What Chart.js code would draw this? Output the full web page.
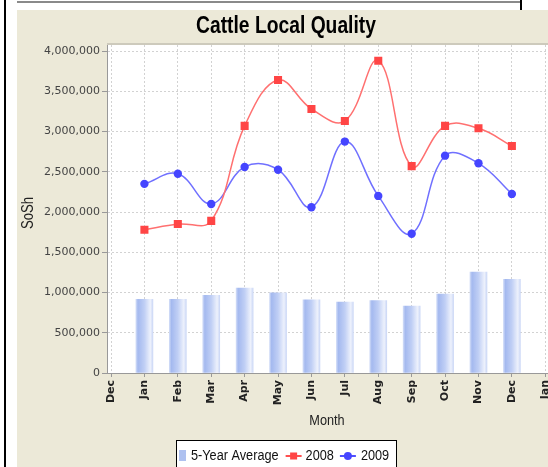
<!DOCTYPE html>
<html>
<head>
<meta charset="utf-8">
<script src="https://cdn.jsdelivr.net/npm/chart.js@4.4.1/dist/chart.umd.min.js"></script>
<style>
  html, body { margin: 0; padding: 0; background: #fff; overflow: hidden; }
  body { width: 548px; height: 467px; position: relative; }
  #leftRule { position: absolute; left: 4px; top: 0; width: 2px; height: 467px; background: #000; }
  #topRule { position: absolute; left: 17px; top: 1px; width: 503px; height: 2px; background: #8a8a8a; }
  #rightTick { position: absolute; left: 520px; top: 0; width: 2px; height: 10px; background: #000; }
  #panel { position: absolute; left: 17px; top: 10px; width: 538px; height: 457px; background: #ECE9D8; }
  canvas { display: block; }
</style>
</head>
<body>
<div id="leftRule"></div>
<div id="topRule"></div>
<div id="rightTick"></div>
<div id="panel"><canvas id="cattleChart" width="538" height="457"></canvas></div>
<script>
// axis labels: the month axis runs Dec .. Jan, data sits on Jan..Dec
const axisMonths = ['Dec', 'Jan', 'Feb', 'Mar', 'Apr', 'May', 'Jun', 'Jul', 'Aug', 'Sep', 'Oct', 'Nov', 'Dec', 'Jan'];
const months = ['Jan', 'Feb', 'Mar', 'Apr', 'May', 'Jun', 'Jul', 'Aug', 'Sep', 'Oct', 'Nov', 'Dec'];

const avg5Year = [915000, 915000, 965000, 1055000, 995000, 910000, 880000, 900000, 830000, 980000, 1255000, 1165000];
const sales2008 = [1780000, 1850000, 1890000, 3070000, 3640000, 3280000, 3130000, 3880000, 2570000, 3070000, 3040000, 2820000];
const sales2009 = [2350000, 2475000, 2100000, 2560000, 2525000, 2060000, 2875000, 2200000, 1730000, 2700000, 2605000, 2225000];

const yTicks = [0, 500000, 1000000, 1500000, 2000000, 2500000, 3000000, 3500000, 4000000];
const yMax = 4075000;

const chartTitle = 'Cattle Local Quality';
const xTitle = 'Month';
const yTitle = 'SoSh';

const sans = "'Liberation Sans', Arial, sans-serif";

// month i of the data sits at axis position i + 1
function points(values) {
    return values.map((v, i) => ({ x: i + 1, y: v }));
}

function barFill(ctx) {
    const chart = ctx.chart;
    const xs = chart.scales.x;
    if (!xs || !ctx.parsed) return '#b9c9f2';
    const cx = xs.getPixelForValue(ctx.parsed.x);
    if (!isFinite(cx)) return '#b9c9f2';
    const g = chart.ctx.createLinearGradient(cx - 8.5, 0, cx + 8.5, 0);
    g.addColorStop(0, '#d0dbf7');
    g.addColorStop(0.12, '#a4b9ef');
    g.addColorStop(0.5, '#c0cff5');
    g.addColorStop(0.85, '#edf1fc');
    g.addColorStop(1, '#ccd8f6');
    return g;
}

// narrow text: Arial metrics squeezed horizontally, like Arial Narrow
function narrowText(ctx, text, x, y, size, opts) {
    opts = opts || {};
    ctx.save();
    ctx.translate(x, y);
    if (opts.vertical) ctx.rotate(-Math.PI / 2);
    ctx.scale(0.82, 1);
    ctx.font = (opts.bold ? 'bold ' : '') + size + 'px ' + sans;
    ctx.textAlign = opts.align || 'center';
    ctx.textBaseline = opts.baseline || 'alphabetic';
    ctx.fillStyle = opts.color || '#111';
    ctx.fillText(text, 0, 0);
    const w = ctx.measureText(text).width * 0.82;
    ctx.restore();
    return w;
}

const plotBackground = {
    id: 'plotBackground',
    beforeDraw(chart) {
        const { ctx, chartArea: a } = chart;
        ctx.save();
        ctx.fillStyle = '#fff';
        ctx.fillRect(a.left, a.top, a.right - a.left, a.bottom - a.top);
        ctx.fillStyle = '#cdcabc';
        ctx.fillRect(a.left, a.top - 2, a.right - a.left, 2);
        ctx.restore();
    }
};

const titles = {
    id: 'titles',
    afterDraw(chart) {
        const ctx = chart.ctx;
        narrowText(ctx, chartTitle, 269, 22.7, 23.5, { bold: true, color: '#000' });
        narrowText(ctx, xTitle, 310, 415, 15.5, { color: '#222' });
        narrowText(ctx, yTitle, 16, 203, 16, { vertical: true, color: '#222' });
    }
};

const boxLegend = {
    id: 'boxLegend',
    afterDraw(chart) {
        const ctx = chart.ctx;
        const left = 159, top = 430, width = 221, height = 40;
        const mid = 446;
        ctx.save();
        ctx.fillStyle = '#fff';
        ctx.fillRect(left, top, width, height);
        ctx.strokeStyle = '#000';
        ctx.lineWidth = 1;
        ctx.strokeRect(left + 0.5, top + 0.5, width - 1, height);

        let x = left + 3;
        // bar swatch
        ctx.fillStyle = '#aec1f0';
        ctx.fillRect(x, mid - 6, 7, 11);
        x += 12;
        x += narrowText(ctx, '5-Year Average', x, mid, 15.5, { align: 'left', baseline: 'middle' }) + 7;

        // 2008
        ctx.strokeStyle = '#ff5050';
        ctx.lineWidth = 2;
        ctx.beginPath(); ctx.moveTo(x, mid); ctx.lineTo(x + 16, mid); ctx.stroke();
        ctx.fillStyle = '#ff4545';
        ctx.fillRect(x + 4.5, mid - 3.5, 7, 7);
        x += 20;
        x += narrowText(ctx, '2008', x, mid, 15.5, { align: 'left', baseline: 'middle' }) + 6;

        // 2009
        ctx.strokeStyle = '#5050ff';
        ctx.beginPath(); ctx.moveTo(x, mid); ctx.lineTo(x + 16, mid); ctx.stroke();
        ctx.fillStyle = '#4545ff';
        ctx.beginPath(); ctx.arc(x + 8, mid, 4, 0, Math.PI * 2); ctx.fill();
        x += 21;
        narrowText(ctx, '2009', x, mid, 15.5, { align: 'left', baseline: 'middle' });
        ctx.restore();
    }
};

const ctx = document.getElementById('cattleChart').getContext('2d');
const chart = new Chart(ctx, {
    data: {
        datasets: [
            {
                type: 'line',
                label: '2008',
                data: points(sales2008),
                borderColor: '#ff7070',
                borderWidth: 1.5,
                tension: 0.4,
                pointStyle: 'rect',
                pointRadius: 5.7,
                pointBorderWidth: 0,
                pointBackgroundColor: '#ff4545',
                order: 0
            },
            {
                type: 'line',
                label: '2009',
                data: points(sales2009),
                borderColor: '#7070ff',
                borderWidth: 1.5,
                tension: 0.4,
                pointStyle: 'circle',
                pointRadius: 4.2,
                pointBorderWidth: 0,
                pointBackgroundColor: '#4545ff',
                order: 1
            },
            {
                type: 'bar',
                label: '5-Year Average',
                data: points(avg5Year),
                backgroundColor: barFill,
                borderWidth: 0,
                barThickness: 17,
                order: 2
            }
        ]
    },
    options: {
        responsive: false,
        animation: false,
        layout: { padding: { left: 0, right: 5, top: 35, bottom: 34 } },
        plugins: {
            legend: { display: false },
            tooltip: { enabled: false },
            title: { display: false }
        },
        scales: {
            x: {
                type: 'linear',
                offset: false,
                min: -0.12,
                max: 13.12,
                afterFit(s) { s.height = 60; s.paddingLeft = 0; s.paddingRight = 0; },
                ticks: {
                    stepSize: 1,
                    includeBounds: false,
                    autoSkip: false,
                    maxRotation: 90,
                    minRotation: 90,
                    padding: 3,
                    color: '#222',
                    font: { family: 'DejaVu Sans', size: 11, weight: 'bold' },
                    callback: v => axisMonths[v]
                },
                grid: { offset: false, color: '#d2d2d2', tickColor: '#999', tickLength: 4, tickBorderDash: [] },
                border: { display: true, color: '#999', dash: [2, 2] }
            },
            y: {
                min: 0,
                max: yMax,
                afterFit(s) { s.width = 90; s.paddingTop = 0; s.paddingBottom = 0; },
                afterBuildTicks(s) { s.ticks = yTicks.map(v => ({ value: v })); },
                ticks: {
                    padding: 2,
                    color: '#444',
                    font: { family: 'DejaVu Sans', size: 11 },
                    callback: v => v.toLocaleString('en-US')
                },
                grid: { color: '#d2d2d2', tickColor: '#999', tickLength: 5, tickBorderDash: [] },
                border: { display: true, color: '#999', dash: [2, 2] }
            }
        }
    },
    plugins: [plotBackground, titles, boxLegend]
});
</script>
</body>
</html>
